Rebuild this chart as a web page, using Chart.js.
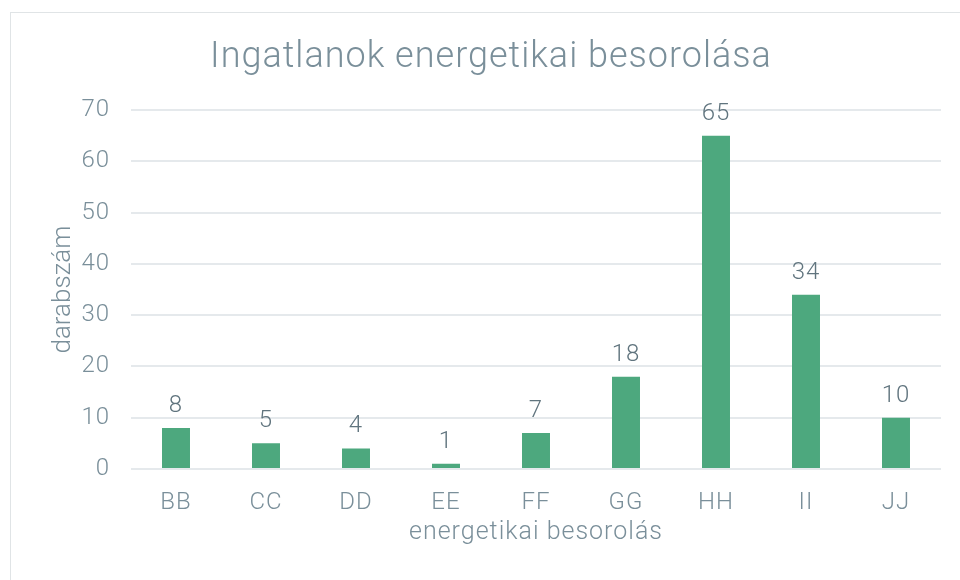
<!DOCTYPE html>
<html>
<head>
<meta charset="utf-8">
<script src="https://cdn.jsdelivr.net/npm/chart.js@4"></script>
<style>
  html, body { margin: 0; padding: 0; background: #fff; overflow: hidden; }
  #keret { position: absolute; left: 10px; top: 12px; width: 1000px; height: 1000px; border: 1.5px solid #e0e4e6; }
  #grafikon { position: absolute; left: 0; top: 0; }
</style>
</head>
<body>
<div id="keret"></div>
<canvas id="grafikon" width="960" height="580"></canvas>
<script>
// === ADATOK ===
const kategoriak = ['BB', 'CC', 'DD', 'EE', 'FF', 'GG', 'HH', 'II', 'JJ'];
const darabszam = [8, 5, 4, 1, 7, 18, 65, 34, 10];
const yTickek = [0, 10, 20, 30, 40, 50, 60, 70];
const yCim = 'darabszám';

const SZURKE = '#7a8f9a';
const SOTET = '#60747e';
const ZOLD = '#4da87e';
const FONT = 'Roboto, "Noto Sans", sans-serif';

// ritkított betűköz (a DIN-szerű betűképhez)
const betukoz = {
  id: 'betukoz',
  beforeDraw(chart) { chart.ctx.letterSpacing = '1px'; }
};

// értékcímkék az oszlopok fölé + függőleges tengelycím
const ertekCimkek = {
  id: 'ertekCimkek',
  afterDatasetsDraw(chart) {
    const ctx = chart.ctx;
    const meta = chart.getDatasetMeta(0);
    ctx.save();
    ctx.font = '300 24px ' + FONT;
    ctx.fillStyle = SOTET;
    ctx.textAlign = 'center';
    ctx.textBaseline = 'alphabetic';
    meta.data.forEach((bar, i) => {
      ctx.fillText(String(darabszam[i]), bar.x, bar.y - 16);
    });
    ctx.restore();
  },
  afterDraw(chart) {
    const ctx = chart.ctx;
    const area = chart.chartArea;
    ctx.save();
    ctx.letterSpacing = '0px';
    ctx.translate(70, (area.top + area.bottom) / 2);
    ctx.rotate(-Math.PI / 2);
    ctx.font = '300 26px ' + FONT;
    ctx.fillStyle = SZURKE;
    ctx.textAlign = 'center';
    ctx.textBaseline = 'alphabetic';
    ctx.fillText(yCim, 0, 0);
    ctx.restore();
  }
};

new Chart(document.getElementById('grafikon'), {
  type: 'bar',
  data: {
    labels: kategoriak,
    datasets: [{
      data: darabszam,
      backgroundColor: ZOLD,
      borderWidth: 0,
      barPercentage: 0.311,
      categoryPercentage: 1
    }]
  },
  options: {
    responsive: false,
    animation: false,
    devicePixelRatio: 1,
    layout: { padding: { left: 41, right: 19, top: 0, bottom: 0 } },
    plugins: {
      legend: { display: false },
      tooltip: { enabled: false },
      title: {
        display: true,
        text: 'Ingatlanok energetikai besorolása',
        color: SZURKE,
        font: { family: FONT, size: 36, weight: '300' },
        padding: { top: 36, bottom: 31 }
      }
    },
    scales: {
      x: {
        grid: { display: false },
        border: { display: false },
        ticks: { color: SZURKE, padding: 12, font: { family: FONT, size: 24, weight: '300' } },
        title: {
          display: true,
          text: 'energetikai besorolás',
          color: SZURKE,
          font: { family: FONT, size: 25, weight: '300' },
          padding: { top: 0, bottom: 32 }
        },
        afterFit(scale) { scale.height = 111; }
      },
      y: {
        min: 0,
        max: 70,
        afterBuildTicks(scale) { scale.ticks = yTickek.map(v => ({ value: v })); },
        grid: { color: '#e5e9ec', lineWidth: 2, drawTicks: false },
        border: { display: false },
        ticks: { color: SZURKE, padding: 21, font: { family: FONT, size: 24, weight: '300' } },
        title: { display: false },
        afterFit(scale) { scale.width = 90; }
      }
    }
  },
  plugins: [betukoz, ertekCimkek]
});
</script>
</body>
</html>
